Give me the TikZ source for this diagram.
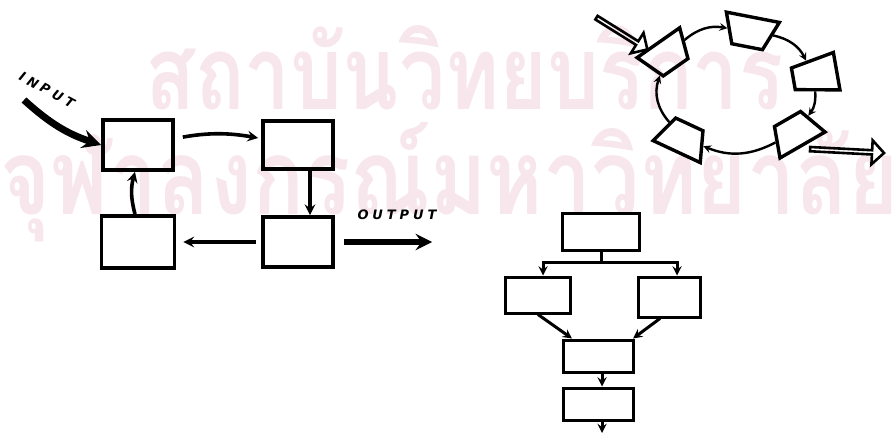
\documentclass[tikz,border=0pt]{standalone}
\usepackage{fontspec}
\usetikzlibrary{shapes.geometric, shapes.arrows, arrows}
\newfontfamily\thaifont[Script=Thai]{Loma}
\newfontfamily\handfont[LetterSpace=30]{DejaVu Sans}
\definecolor{watermark}{RGB}{248,230,237}

\begin{document}
\begin{tikzpicture}[x=1pt, y=1pt, node distance=160pt]
    \tikzstyle{stamp} = [text=watermark, font=\thaifont\bfseries\fontsize{82}{82}\selectfont, anchor=base west, inner sep=0pt]
    \tikzstyle{box} = [rectangle, minimum width=70pt, minimum height=50pt, draw=black, line width=3.8pt, inner sep=0pt]
    \tikzstyle{flowbox} = [rectangle, minimum width=70pt, minimum height=32pt, draw=black, line width=3pt, inner sep=0pt]
    \tikzstyle{wedge} = [trapezium, trapezium left angle=70, trapezium right angle=70, trapezium stretches=true, minimum width=52pt, minimum height=30pt, draw=black, line width=3.4pt, inner sep=2pt]
    \tikzstyle{hollow} = [single arrow, draw=black, line width=2.6pt, minimum width=24pt, single arrow head extend=6pt, inner sep=0pt]
    \tikzstyle{tag} = [font=\handfont\bfseries\itshape\fontsize{13}{13}\selectfont, inner sep=0pt]
    \tikzstyle{arrow} = [line width=3.6pt,->,>=stealth]
    \tikzstyle{bigarrow} = [line width=7pt,->,>=stealth]
    \tikzstyle{ringarrow} = [line width=2.4pt,->,>=stealth]
    \tikzstyle{flowarrow} = [line width=3pt,->,>=stealth]

    \useasboundingbox (0,0) rectangle (893,442);
    \clip (0,0) rectangle (893,442);

    \node (stamp1) [stamp] at (145,332) {\scalebox{1}[1.25]{สถาบันวิทยบริการ}};
    \node (stamp2) [stamp, font=\thaifont\bfseries\fontsize{86}{86}\selectfont] at (0,227) {\scalebox{1}[1.22]{จุฬาลงกรณ์มหาวิทยาลัย}};

    \node (loopA) [box] at (138,297) {};
    \node (loopB) [box, minimum height=48pt, right of=loopA] {};
    \node (loopC) [box, below of=loopB, yshift=63pt] {};
    \node (loopD) [box, minimum width=73pt, minimum height=52pt, left of=loopC] {};
    \coordinate (inp) at (24,342);
    \coordinate (outp) at (432,200);
    \node (inlabel) [tag, rotate=-28] at (47,352) {INPUT};
    \node (outlabel) [tag] at (397,227) {OUTPUT};

    \draw [bigarrow] (inp) to[bend right=12] (loopA.west);
    \draw [arrow, shorten <=8pt, shorten >=3pt] (loopA) to[bend left=10] (loopB);
    \draw [arrow] ([xshift=12pt]loopB.south) -- ([xshift=12pt]loopC.north);
    \draw [arrow, shorten <=5pt, shorten >=7pt] (loopC) -- (loopD);
    \draw [arrow] ([xshift=-3pt]loopD.north) to[bend left=15] ([xshift=-3pt]loopA.south);
    \draw [bigarrow, line width=6pt, shorten <=9pt] (loopC) -- (outp);

    \node (ring1) [wedge, rotate=169, minimum width=54pt] at (750,410) {};
    \node (ring2) [wedge, rotate=100, minimum width=38pt, minimum height=44pt] at (815,367) {};
    \node (ring3) [wedge, rotate=30] at (795,310) {};
    \node (ring4) [wedge, rotate=-25] at (683,304) {};
    \node (ring5) [wedge, rotate=215] at (667,387) {};
    \node (ringin) [hollow, rotate=-32, minimum height=60pt] at (621,409) {};
    \node (ringout) [hollow, rotate=-3, minimum height=74pt] at (846,291) {};

    \draw [ringarrow] (ring5) to[bend left=25] (ring1);
    \draw [ringarrow] (ring1) to[bend left=25] (ring2);
    \draw [ringarrow] (ring2) to[bend left=20] (ring3);
    \draw [ringarrow] (ring3) to[bend left=25] (ring4);
    \draw [ringarrow] (ring4) to[bend left=30] (ring5);

    \node (flowtop) [flowbox, minimum width=77pt, minimum height=37pt] at (601,210) {};
    \node (flowleft) [flowbox, minimum width=65pt, minimum height=36pt, below of=flowtop, node distance=63pt, xshift=-63pt] {};
    \node (flowright) [flowbox, minimum width=62pt, minimum height=40pt, below of=flowtop, node distance=65pt, xshift=68pt] {};
    \node (flowmid) [flowbox, below of=flowtop, node distance=124pt, xshift=-3pt] {};
    \node (flowend) [flowbox, below of=flowmid, node distance=48pt] {};
    \coordinate (flowexit) at (602,9);

    \draw [flowarrow] (flowtop.south) -- ++(0,-10) -| ([xshift=5pt]flowleft.north);
    \draw [flowarrow] (flowtop.south) -- ++(0,-10) -| ([xshift=8pt]flowright.north);
    \draw [flowarrow] (flowleft.south) -- ([xshift=-26pt]flowmid.north);
    \draw [flowarrow] ([xshift=-9pt]flowright.south) -- ([xshift=35pt]flowmid.north);
    \draw [flowarrow] ([xshift=4pt]flowmid.south) -- ([xshift=4pt]flowend.north);
    \draw [flowarrow] ([xshift=4pt]flowend.south) -- (flowexit);
\end{tikzpicture}
\end{document}
